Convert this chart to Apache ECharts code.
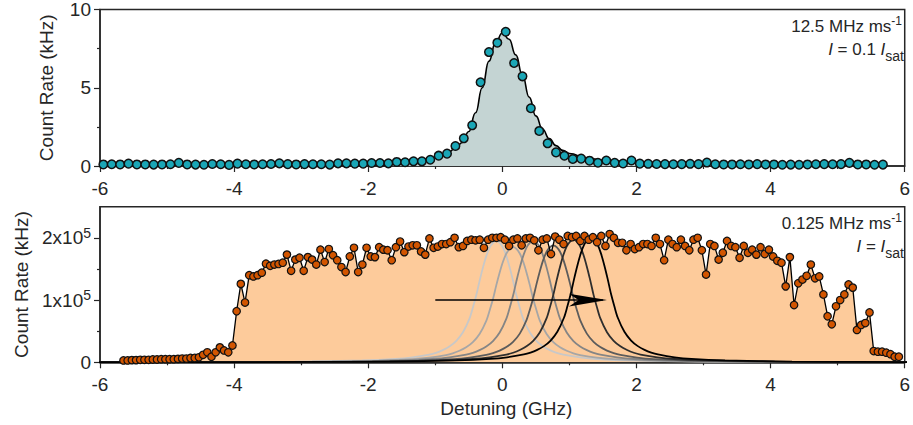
<!DOCTYPE html>
<html>
<head>
<meta charset="utf-8">
<script src="https://cdn.jsdelivr.net/npm/echarts@6/dist/echarts.min.js"></script>
<style>
  html, body { margin: 0; padding: 0; background: #fff; }
  #chart { width: 913px; height: 425px; }
</style>
</head>
<body>
<div id="chart"></div>
<script>
// ---- top panel: 12.5 MHz/ms sweep, I = 0.1 Isat (kHz) ----
var topStart = -5.95, topStep = 0.125;
var topCounts = [
  0.10, 0.11, 0.10, 0.15, 0.10, 0.10, 0.09, 0.10, 0.11, 0.20,
  0.10, 0.09, 0.08, 0.13, 0.11, 0.07, 0.15, 0.11, 0.10, 0.11,
  0.13, 0.17, 0.12, 0.10, 0.12, 0.11, 0.11, 0.09, 0.17, 0.17,
  0.15, 0.15, 0.19, 0.19, 0.17, 0.26, 0.24, 0.30, 0.30, 0.40,
  0.66, 0.79, 1.28, 1.77, 2.60, 5.35, 7.28, 7.88, 8.58, 6.58,
  5.73, 3.69, 2.24, 1.45, 0.87, 0.66, 0.45, 0.47, 0.34, 0.21,
  0.35, 0.20, 0.16, 0.35, 0.15, 0.14, 0.13, 0.12, 0.11, 0.12,
  0.14, 0.12, 0.22, 0.11, 0.10, 0.10, 0.11, 0.10, 0.12, 0.10,
  0.10, 0.08, 0.09, 0.08, 0.10, 0.11, 0.12, 0.11, 0.12, 0.20,
  0.10, 0.10, 0.08, 0.09
];
// fitted line shape
var fitX = [-6, -5, -4, -3, -2.5, -2, -1.5, -1.2, -1.0, -0.85, -0.7, -0.6, -0.5, -0.4, -0.3, -0.2, -0.1, 0,
            0.1, 0.2, 0.3, 0.4, 0.5, 0.6, 0.7, 0.8, 0.9, 1.0, 1.25, 1.5, 2, 2.5, 3, 4, 5, 5.7];
var fitY = [0.06, 0.07, 0.09, 0.12, 0.15, 0.19, 0.28, 0.40, 0.55, 0.75, 1.1, 1.5, 2.2, 3.4, 5.0, 6.7, 7.9, 8.5,
            8.1, 7.1, 5.8, 4.4, 3.2, 2.35, 1.75, 1.3, 1.0, 0.8, 0.52, 0.37, 0.22, 0.16, 0.12, 0.09, 0.07, 0.06];

// ---- bottom panel: 0.125 MHz/ms sweep, I = Isat (units of 1e5 kHz) ----
var botStart = -5.65, botStep = 0.0625;
var botCounts = [
  0.03, 0.03, 0.035, 0.035, 0.04, 0.04, 0.04, 0.045, 0.045, 0.05,
  0.05, 0.05, 0.05, 0.055, 0.06, 0.06, 0.07, 0.07,
  0.08, 0.12, 0.16, 0.09, 0.16, 0.24, 0.19, 0.16, 0.27,
  0.82, 1.26, 0.96, 1.40, 1.38, 1.40, 1.44, 1.585, 1.55, 1.57,
  1.58, 1.60, 1.73, 1.47, 1.65, 1.68, 1.47, 1.69, 1.65, 1.57,
  1.81, 1.61, 1.82, 1.72, 1.64, 1.53, 1.45, 1.70, 1.84, 1.45,
  1.57, 1.84, 1.70, 1.69, 1.85, 1.81, 1.80, 1.64, 1.85, 1.94,
  1.77, 1.86, 1.88, 1.88, 1.78, 1.73, 1.99, 1.84, 1.86, 1.90,
  1.90, 1.93, 2.00, 1.85, 1.87, 1.95, 1.97, 1.96, 1.97, 1.84,
  1.97, 2.00, 2.00, 2.01, 1.97, 1.87, 1.97, 1.99, 1.88, 1.99,
  2.00, 1.96, 1.80, 1.97, 1.99, 1.74, 2.02, 1.97, 1.90, 2.03,
  2.01, 2.03, 1.95, 2.03, 1.97, 2.01, 1.93, 2.03, 1.87, 2.06,
  2.00, 1.92, 1.92, 1.80, 1.90, 1.82, 1.85, 1.90, 1.90, 1.87,
  2.00, 1.90, 1.64, 1.97, 1.90, 1.85, 1.97, 1.87, 1.80, 1.97,
  2.00, 1.80, 1.41, 1.90, 1.87, 1.65, 1.76, 1.95, 1.87, 1.85,
  1.68, 1.87, 1.76, 1.81, 1.73, 1.85, 1.74, 1.81, 1.70, 1.63,
  1.60, 1.22, 1.69, 0.92, 1.27, 1.33, 1.39, 1.57, 1.35, 1.38,
  1.09, 0.74, 0.61, 0.90, 1.00, 1.09, 1.25, 1.20, 0.52, 0.60,
  0.63, 0.80, 0.18, 0.17, 0.17, 0.155, 0.13, 0.09, 0.09
];

// shifted line shapes (grey -> black)
var peakCenters = [-0.09, 0.16, 0.46, 0.76, 1.06, 1.32];
var peakHeights = [1.95, 1.85, 1.95, 1.88, 1.97, 2.0];
var peakColors = ['#c8c8c8', '#a6a6a6', '#858585', '#5c5c5c', '#2e2e2e', '#000000'];
// half profile of one line (distance from centre, fraction of peak)
var profileDx = [0, 0.05, 0.1, 0.15, 0.2, 0.25, 0.3, 0.35, 0.4, 0.5, 0.6, 0.7, 0.8, 0.9, 1.0, 1.25, 1.5, 2, 3, 4, 6, 8];
var profileRel = [1, 0.985, 0.945, 0.875, 0.78, 0.67, 0.55, 0.45, 0.36, 0.245, 0.175, 0.13, 0.1, 0.078, 0.063, 0.04, 0.027, 0.015, 0.006, 0.003, 0.001, 0.0005];

var arrowShaft = [[-1.0, 1.0], [1.5, 1.0]];
var arrowHead = [1.56, 1.0];

var FONT = '"Liberation Sans", Arial, sans-serif';
var INK = '#262626';

function pairs(start, step, vals) {
  return vals.map(function (v, i) { return [start + step * i, v]; });
}

function peakCurve(c, h) {
  var pts = [];
  for (var i = profileDx.length - 1; i > 0; i--) pts.push([c - profileDx[i], h * profileRel[i]]);
  for (var j = 0; j < profileDx.length; j++) pts.push([c + profileDx[j], h * profileRel[j]]);
  return pts;
}

var topData = pairs(topStart, topStep, topCounts);
var botData = pairs(botStart, botStep, botCounts);
var fitData = fitX.map(function (x, i) { return [x, fitY[i]]; });

var myChart = echarts.init(document.getElementById('chart'), null, { renderer: 'svg' });

function xAxisCfg(gridIndex, withName) {
  var ax = {
    gridIndex: gridIndex, type: 'value', min: -6, max: 6, interval: 2,
    axisLine: { onZero: false, lineStyle: { color: INK, width: 1.5 } },
    axisTick: { length: 6, lineStyle: { color: INK, width: 1.2 } },
    minorTick: { show: true, splitNumber: 2, length: 3, lineStyle: { color: INK, width: 1.2 } },
    splitLine: { show: false },
    axisLabel: { color: INK, fontSize: 19, fontFamily: FONT, margin: 13 }
  };
  if (withName) {
    ax.name = 'Detuning (GHz)';
    ax.nameLocation = 'middle';
    ax.nameGap = 37;
    ax.nameTextStyle = { color: INK, fontSize: 19, fontFamily: FONT, padding: [0, 0, 0, 8] };
  }
  return ax;
}

var supRich = {
  b: { color: INK, fontSize: 19, fontFamily: FONT },
  s: { color: INK, fontSize: 14, fontFamily: FONT, padding: [0, 0, 10, 0] }
};

var noteRich = {
  a: { fill: INK, fontSize: 17, fontFamily: FONT },
  i: { fill: INK, fontSize: 17, fontFamily: FONT, fontStyle: 'italic' },
  sup: { fill: INK, fontSize: 12, fontFamily: FONT, padding: [0, 0, 11, 0] },
  sub: { fill: INK, fontSize: 14, fontFamily: FONT, padding: [12, 0, 0, 0] }
};

var series = [];
// top panel
series.push({
  type: 'line', xAxisIndex: 0, yAxisIndex: 0, data: fitData,
  smooth: true, smoothMonotone: 'x', showSymbol: false, z: 2,
  lineStyle: { color: '#000', width: 1.6 },
  areaStyle: { color: '#c4d4d3', opacity: 1 }
});
series.push({
  type: 'scatter', xAxisIndex: 0, yAxisIndex: 0, data: topData, z: 3,
  symbol: 'circle', symbolSize: 8.5,
  itemStyle: { color: '#1aa6b6', borderColor: '#111', borderWidth: 1.5, opacity: 1 }
});
// bottom panel: fill under the data
series.push({
  type: 'line', xAxisIndex: 1, yAxisIndex: 1, data: botData, z: 1,
  showSymbol: false, lineStyle: { width: 0, opacity: 0 },
  areaStyle: { color: '#fdcb9b', opacity: 1 }
});
peakCenters.forEach(function (c, i) {
  series.push({
    type: 'line', xAxisIndex: 1, yAxisIndex: 1, data: peakCurve(c, peakHeights[i]), z: 2,
    smooth: 0.3, showSymbol: false,
    lineStyle: { color: peakColors[i], width: 1.8 }
  });
});
series.push({
  type: 'line', xAxisIndex: 1, yAxisIndex: 1, data: arrowShaft, z: 3,
  showSymbol: false, lineStyle: { color: '#000', width: 1.4 }
});
series.push({
  type: 'scatter', xAxisIndex: 1, yAxisIndex: 1, data: [arrowHead], z: 3,
  symbol: 'arrow', symbolRotate: -90, symbolSize: [9.5, 38],
  itemStyle: { color: '#000', opacity: 1 }
});
series.push({
  type: 'line', xAxisIndex: 1, yAxisIndex: 1, data: botData, z: 4,
  symbol: 'circle', symbolSize: 7.5, showAllSymbol: true,
  lineStyle: { color: '#000', width: 1.3 },
  itemStyle: { color: '#d25500', borderColor: '#111', borderWidth: 1.2 }
});

var option = {
  animation: false,
  backgroundColor: '#fff',
  grid: [
    { left: 100, top: 9.5, width: 812, height: 156.5, show: true, borderColor: INK, borderWidth: 1.5 },
    { left: 100, top: 206.7, width: 812, height: 155.6, show: true, borderColor: INK, borderWidth: 1.5 }
  ],
  xAxis: [xAxisCfg(0, false), xAxisCfg(1, true)],
  yAxis: [
    {
      gridIndex: 0, type: 'value', min: 0, max: 10, interval: 5, position: 'left',
      name: 'Count Rate (kHz)', nameLocation: 'middle', nameGap: 44,
      nameTextStyle: { color: INK, fontSize: 19, fontFamily: FONT },
      axisLine: { show: true, onZero: false, lineStyle: { color: INK, width: 1.5 } },
      axisTick: { length: 6, lineStyle: { color: INK, width: 1.2 } },
      minorTick: { show: true, splitNumber: 2, length: 3, lineStyle: { color: INK, width: 1.2 } },
      splitLine: { show: false },
      axisLabel: { color: INK, fontSize: 19, fontFamily: FONT, margin: 9 }
    },
    {
      gridIndex: 1, type: 'value', min: 0, max: 2.5, position: 'left',
      name: 'Count Rate (kHz)', nameLocation: 'middle', nameGap: 69,
      nameTextStyle: { color: INK, fontSize: 19, fontFamily: FONT },
      axisLine: { show: true, onZero: false, lineStyle: { color: INK, width: 1.5 } },
      axisTick: { length: 6, customValues: [0, 1, 2], lineStyle: { color: INK, width: 1.2 } },
      splitLine: { show: false },
      axisLabel: {
        customValues: [0, 1, 2], margin: 9, rich: supRich,
        formatter: function (v) { return v === 0 ? '{b|0}' : '{b|' + v + 'x10}{s|5}'; }
      }
    },
    {
      gridIndex: 1, type: 'value', min: 0, max: 2.5, position: 'left', offset: 0,
      axisLine: { show: false, onZero: false },
      axisTick: { show: true, length: 3, customValues: [0.5, 1.5], lineStyle: { color: INK, width: 1.2 } },
      axisLabel: { show: false },
      splitLine: { show: false }
    }
  ],
  graphic: [
    { type: 'text', right: 11, top: 15, z: 10,
      style: { text: '{a|12.5 MHz ms}{sup|-1}', rich: noteRich } },
    { type: 'text', right: 9, top: 41, z: 10,
      style: { text: '{i|I}{a| = 0.1 }{i|I}{sub|sat}', rich: noteRich } },
    { type: 'text', right: 11, top: 212, z: 10,
      style: { text: '{a|0.125 MHz ms}{sup|-1}', rich: noteRich } },
    { type: 'text', right: 9, top: 238, z: 10,
      style: { text: '{i|I}{a| = }{i|I}{sub|sat}', rich: noteRich } }
  ],
  series: series
};

myChart.setOption(option);
</script>
</body>
</html>
